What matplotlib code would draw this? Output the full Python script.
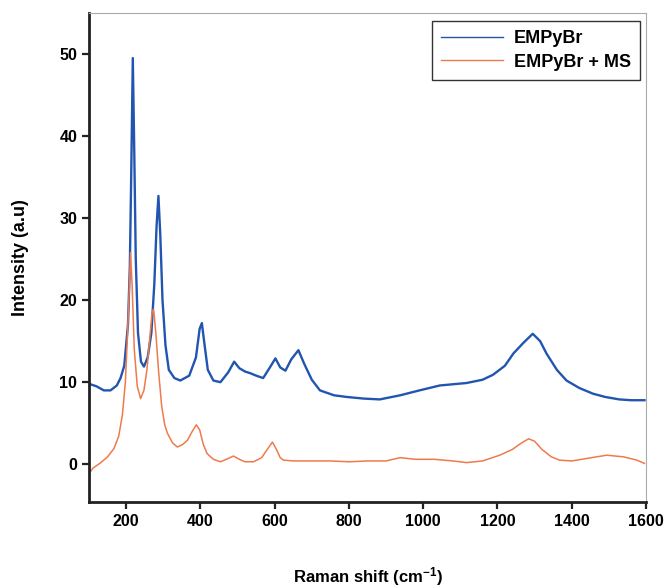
import matplotlib.pyplot as plt

# Raman spectra
shift_empybr = [100, 120, 140, 158, 175, 185, 195, 205, 210, 214, 218, 222, 226, 232,
                240, 248, 258, 268, 276, 282, 287, 292, 298, 306, 315, 330, 346, 370,
                388, 398, 404, 410, 420, 435, 454, 475, 491, 505, 520, 534, 550, 569,
                590, 602, 615, 629, 645, 664, 680, 700, 722, 760, 794, 840, 883, 938,
                990, 1045, 1117, 1160, 1188, 1220, 1243, 1270, 1295, 1315, 1332, 1360,
                1386, 1420, 1457, 1490, 1528, 1560, 1596]
int_empybr = [9.8, 9.5, 9.0, 9.0, 9.6, 10.5, 12.0, 17.0, 24.0, 36.0, 49.5, 38.0, 25.0, 16.0,
              12.5, 11.9, 13.0, 16.0, 22.0, 29.0, 32.7, 28.0, 20.0, 14.5, 11.5, 10.5, 10.2, 10.8,
              13.0, 16.5, 17.2, 15.0, 11.5, 10.2, 10.0, 11.2, 12.5, 11.7, 11.3, 11.1, 10.8, 10.5,
              12.0, 12.9, 11.8, 11.4, 12.8, 13.9, 12.2, 10.3, 9.0, 8.4, 8.2, 8.0, 7.9, 8.4,
              9.0, 9.6, 9.9, 10.3, 10.9, 12.0, 13.5, 14.8, 15.9, 15.0, 13.5, 11.5,
              10.2, 9.3, 8.6, 8.2, 7.9, 7.8, 7.8]

shift_ms = [100, 110, 132, 150, 167, 180, 190, 198, 204, 209, 212, 216, 222, 230, 239,
            248, 256, 264, 270, 274, 280, 288, 296, 304, 311, 325, 338, 352, 365, 378,
            389, 398, 408, 418, 435, 454, 475, 489, 505, 520, 543, 565, 580, 594, 605,
            615, 624, 650, 700, 750, 800, 850, 900, 938, 980, 1030, 1080, 1117, 1160,
            1206, 1240, 1265, 1284, 1300, 1320, 1345, 1367, 1400, 1440, 1494, 1540,
            1575, 1596]
int_ms = [-1.2, -0.5, 0.2, 0.9, 1.9, 3.4, 6.0, 10.0, 16.0, 22.0, 25.8, 22.0, 14.0, 9.5, 8.0,
          9.0, 11.5, 15.5, 18.5, 18.9, 16.0, 11.0, 7.0, 4.8, 3.8, 2.6, 2.1, 2.4, 2.9, 4.0,
          4.8, 4.2, 2.4, 1.3, 0.6, 0.3, 0.7, 1.0, 0.6, 0.3, 0.3, 0.8, 1.8, 2.7, 1.8,
          0.8, 0.5, 0.4, 0.4, 0.4, 0.3, 0.4, 0.4, 0.8, 0.6, 0.6, 0.4, 0.2, 0.4,
          1.1, 1.8, 2.6, 3.1, 2.8, 1.8, 0.9, 0.5, 0.4, 0.7, 1.1, 0.9,
          0.5, 0.1]

x_ticks = [200, 400, 600, 800, 1000, 1200, 1400, 1600]
y_ticks = [0, 10, 20, 30, 40, 50]

plt.rcParams['font.family'] = ['Liberation Sans', 'DejaVu Sans']
plt.rcParams['font.weight'] = 'bold'
plt.rcParams['mathtext.fontset'] = 'custom'
plt.rcParams['mathtext.rm'] = 'Liberation Sans:bold'
plt.rcParams['mathtext.bf'] = 'Liberation Sans:bold'
plt.rcParams['mathtext.default'] = 'bf'

fig = plt.figure(figsize=(6.67, 5.88), dpi=100)
ax = fig.add_axes([0.1334, 0.1463, 0.8351, 0.8317])

ax.plot(shift_empybr, int_empybr, color='#2255b0', lw=1.7, label='EMPyBr')
ax.plot(shift_ms, int_ms, color='#ee7a4e', lw=1.1, label='EMPyBr + MS')

ax.set_xlim(100, 1600)
ax.set_ylim(-4.6, 55)
ax.set_xticks(x_ticks)
ax.set_yticks(y_ticks)

for s in ['left', 'bottom']:
    ax.spines[s].set_linewidth(2)
    ax.spines[s].set_color('#222222')
for s in ['top', 'right']:
    ax.spines[s].set_linewidth(0.8)
    ax.spines[s].set_color('#aaaaaa')

ax.tick_params(direction='out', length=5, width=1.6, labelsize=11.5, color='#222222')
for lbl in ax.get_xticklabels() + ax.get_yticklabels():
    lbl.set_fontweight('bold')

ax.set_xlabel('Raman shift (cm$^{-1}$)', fontsize=12, fontweight='bold', labelpad=26)
ax.set_ylabel('Intensity (a.u)', fontsize=13, fontweight='bold', labelpad=22)

leg = ax.legend(loc='upper right', bbox_to_anchor=(0.989, 0.983), borderaxespad=0,
                frameon=True, fancybox=False, handlelength=3.4, borderpad=0.5,
                labelspacing=0.35, handletextpad=0.6,
                prop={'weight': 'bold', 'size': 13})
leg.get_frame().set_edgecolor('black')
leg.get_frame().set_linewidth(1.0)
for h in leg.get_lines():
    h.set_linewidth(1.0)

fig.savefig('out.png', dpi=100)
